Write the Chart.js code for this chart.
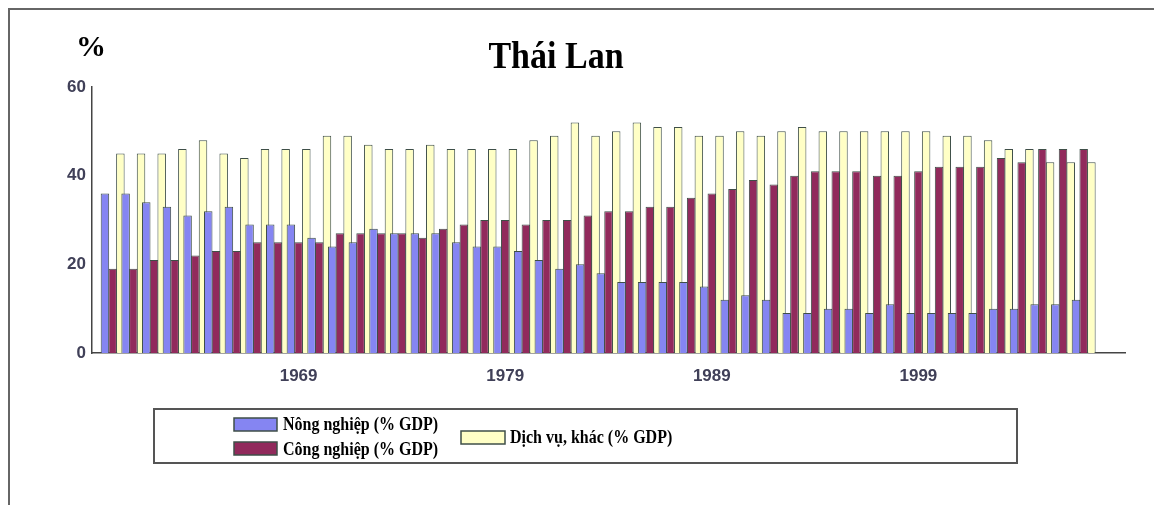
<!DOCTYPE html>
<html>
<head>
<meta charset="utf-8">
<script src="https://cdn.jsdelivr.net/npm/chart.js@4.4.0/dist/chart.umd.min.js"></script>
<style>
  html, body { margin: 0; padding: 0; background: #fff; }
  #wrap { width: 1154px; height: 505px; position: relative; }
</style>
</head>
<body>
<div id="wrap"><canvas id="bar-chart"></canvas></div>
<script>
// Data
const years = [1960, 1961, 1962, 1963, 1964, 1965, 1966, 1967, 1968, 1969,
               1970, 1971, 1972, 1973, 1974, 1975, 1976, 1977, 1978, 1979,
               1980, 1981, 1982, 1983, 1984, 1985, 1986, 1987, 1988, 1989,
               1990, 1991, 1992, 1993, 1994, 1995, 1996, 1997, 1998, 1999,
               2000, 2001, 2002, 2003, 2004, 2005, 2006, 2007];
const nongNghiep = [36, 36, 34, 33, 31, 32, 33, 29, 29, 29,
                    26, 24, 25, 28, 27, 27, 27, 25, 24, 24,
                    23, 21, 19, 20, 18, 16, 16, 16, 16, 15,
                    12, 13, 12, 9, 9, 10, 10, 9, 11, 9,
                    9, 9, 9, 10, 10, 11, 11, 12];
const congNghiep = [19, 19, 21, 21, 22, 23, 23, 25, 25, 25,
                    25, 27, 27, 27, 27, 26, 28, 29, 30, 30,
                    29, 30, 30, 31, 32, 32, 33, 33, 35, 36,
                    37, 39, 38, 40, 41, 41, 41, 40, 40, 41,
                    42, 42, 42, 44, 43, 46, 46, 46];
const dichVu = [45, 45, 45, 46, 48, 45, 44, 46, 46, 46,
                49, 49, 47, 46, 46, 47, 46, 46, 46, 46,
                48, 49, 52, 49, 50, 52, 51, 51, 49, 49,
                50, 49, 50, 51, 50, 50, 50, 50, 50, 50,
                49, 49, 48, 46, 46, 43, 43, 43];
const xTicks = [1969, 1979, 1989, 1999];
const yTicks = [0, 20, 40, 60];
const seriesNames = ['Nông nghiệp (% GDP)', 'Công nghiệp (% GDP)', 'Dịch vụ, khác (% GDP)'];
const colors = ['#8585f2', '#912a5c', '#ffffc6'];

const barBorder = '#3f4f48';
const tickColor = '#404058';

function stretchText(ctx, text, x, y, font, sy, align) {
    ctx.save();
    ctx.font = font;
    ctx.textAlign = align;
    ctx.textBaseline = 'alphabetic';
    ctx.fillStyle = '#000';
    ctx.translate(x, y);
    ctx.scale(1, sy);
    ctx.fillText(text, 0, 0);
    ctx.restore();
}

// frame, title, "%" and the boxed legend
const decor = {
    id: 'decor',
    beforeDraw(chart) {
        const ctx = chart.ctx;
        ctx.save();
        ctx.fillStyle = '#fff';
        ctx.fillRect(0, 0, chart.width, chart.height);
        ctx.restore();
    },
    afterDraw(chart) {
        const ctx = chart.ctx;
        ctx.save();
        // outer frame (top + left)
        ctx.strokeStyle = '#666';
        ctx.lineWidth = 2;
        ctx.beginPath();
        ctx.moveTo(9, 505);
        ctx.lineTo(9, 9);
        ctx.lineTo(1154, 9);
        ctx.stroke();

        stretchText(ctx, '%', 91, 56, 'bold 30px "Liberation Serif"', 1.0, 'center');
        stretchText(ctx, 'Thái Lan', 556, 68, 'bold 34px "Liberation Serif"', 1.1, 'center');

        // legend box
        ctx.strokeStyle = '#555';
        ctx.lineWidth = 2;
        ctx.strokeRect(154, 409, 863, 54);

        const sw = [
            { x: 234, y: 418, w: 43, h: 13 },
            { x: 234, y: 442, w: 43, h: 13 },
            { x: 461, y: 431, w: 44, h: 13 }
        ];
        const tx = [
            { x: 283, y: 430 },
            { x: 283, y: 455 },
            { x: 510, y: 443 }
        ];
        for (let i = 0; i < 3; i++) {
            ctx.fillStyle = colors[i];
            ctx.fillRect(sw[i].x, sw[i].y, sw[i].w, sw[i].h);
            ctx.strokeStyle = barBorder;
            ctx.lineWidth = 1.5;
            ctx.strokeRect(sw[i].x, sw[i].y, sw[i].w, sw[i].h);
            stretchText(ctx, seriesNames[i], tx[i].x, tx[i].y, 'bold 16px "Liberation Serif"', 1.22, 'left');
        }
        ctx.restore();
    }
};

new Chart(document.getElementById('bar-chart'), {
    type: 'bar',
    data: {
        labels: years,
        datasets: [
            { label: seriesNames[0], data: nongNghiep, backgroundColor: colors[0] },
            { label: seriesNames[1], data: congNghiep, backgroundColor: colors[1] },
            { label: seriesNames[2], data: dichVu, backgroundColor: colors[2] }
        ]
    },
    options: {
        responsive: true,
        maintainAspectRatio: false,
        animation: false,
        devicePixelRatio: 1,
        layout: { padding: { left: 12, right: 29, top: 87, bottom: 112 } },
        datasets: {
            bar: {
                borderColor: barBorder,
                borderWidth: 1,
                categoryPercentage: 1.12,
                barPercentage: 1.1
            }
        },
        plugins: {
            legend: { display: false },
            title: { display: false },
            tooltip: { enabled: false }
        },
        scales: {
            x: {
                type: 'linear',
                min: 1959,
                max: 2009,
                offset: false,
                grid: { display: false, drawTicks: false, offset: false },
                border: { display: true, color: '#444', width: 1.5 },
                afterBuildTicks(scale) {
                    scale.ticks = xTicks.map(v => ({ value: v }));
                },
                afterFit(scale) { scale.height = 40; },
                ticks: {
                    autoSkip: false,
                    maxRotation: 0,
                    padding: 13,
                    color: tickColor,
                    font: { family: '"Liberation Sans"', size: 17, weight: 'bold' },
                    callback: v => String(v)
                }
            },
            y: {
                min: 0,
                max: 60,
                grid: { display: false, drawTicks: false },
                border: { display: true, color: '#444', width: 1.5 },
                afterBuildTicks(scale) {
                    scale.ticks = yTicks.map(v => ({ value: v }));
                },
                afterFit(scale) { scale.width = 80; },
                ticks: {
                    padding: 6,
                    color: tickColor,
                    font: { family: '"Liberation Sans"', size: 17, weight: 'bold' }
                }
            }
        }
    },
    plugins: [decor]
});
</script>
</body>
</html>
